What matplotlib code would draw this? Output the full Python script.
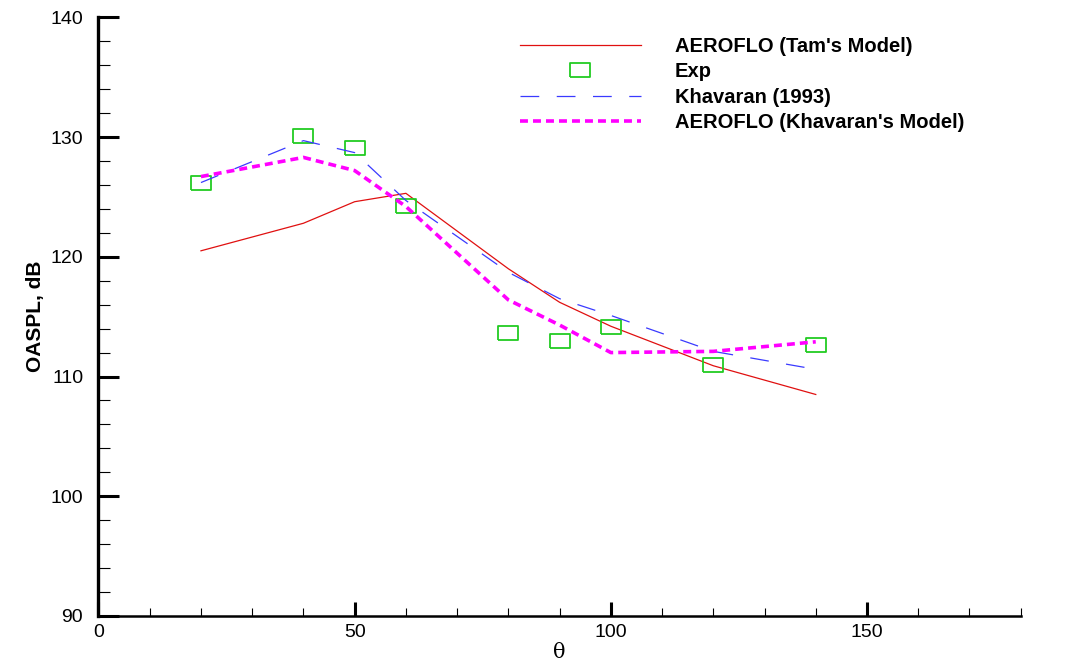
import matplotlib
matplotlib.use("Agg")
import matplotlib.pyplot as plt
from matplotlib.ticker import MultipleLocator

plt.rcParams.update({
    "font.family": "Liberation Sans",
    "font.size": 14,
})

# polar angle, deg
theta = [20, 40, 50, 60, 80, 90, 100, 120, 140]
oaspl_tam = [120.5, 122.8, 124.6, 125.3, 119.0, 116.2, 114.2, 110.9, 108.5]
oaspl_exp = [126.2, 130.1, 129.1, 124.2, 113.6, 113.0, 114.1, 111.0, 112.6]
oaspl_khav1993 = [126.2, 129.7, 128.7, 124.7, 118.7, 116.5, 115.1, 112.1, 110.6]
oaspl_khav_model = [126.7, 128.3, 127.2, 124.2, 116.4, 114.3, 112.0, 112.1, 112.9]

# rectangular (wider than tall) open marker like the original
rect = [(-1, -0.72), (1, -0.72), (1, 0.72), (-1, 0.72), (-1, -0.72)]

fig = plt.figure(figsize=(10.92, 6.66), dpi=100)
ax = fig.add_axes([0.0902, 0.0751, 0.9347 - 0.0902, 0.974 - 0.0751])

ax.plot(theta, oaspl_tam, color="#e01010", lw=0.9, label="AEROFLO (Tam's Model)")
ax.plot(theta, oaspl_exp, ls="none", marker=rect, ms=15, mfc="none",
        mec="#22cc22", mew=1.3, label="Exp")
ax.plot(theta, oaspl_khav1993, color="#3a3aff", lw=0.9, dashes=(15, 14),
        label="Khavaran (1993)")
ax.plot(theta, oaspl_khav_model, color="#ff00ff", lw=2.6, dashes=(2.2, 1.4),
        label="AEROFLO (Khavaran's Model)")

ax.set_xlim(0, 180)
ax.set_ylim(90, 140)
ax.xaxis.set_major_locator(MultipleLocator(50))
ax.xaxis.set_minor_locator(MultipleLocator(10))
ax.yaxis.set_major_locator(MultipleLocator(10))
ax.yaxis.set_minor_locator(MultipleLocator(2))

ax.spines["top"].set_visible(False)
ax.spines["right"].set_visible(False)
ax.spines["left"].set_linewidth(2.4)
ax.spines["bottom"].set_linewidth(1.8)

ax.tick_params(axis="y", which="major", direction="in", length=15, width=2.2, pad=11, labelsize=14)
ax.tick_params(axis="y", which="minor", direction="in", length=8.5, width=0.8)
ax.tick_params(axis="x", which="major", direction="in", length=10, width=2.2, pad=6, labelsize=14)
ax.tick_params(axis="x", which="minor", direction="in", length=5.8, width=0.8)

ax.set_xlabel("θ", family="DejaVu Serif", fontsize=15, labelpad=1)
ax.set_ylabel("OASPL, dB", fontweight="bold", fontsize=15, labelpad=4)

ax.legend(loc="upper left", bbox_to_anchor=(520 / 1092, 1 - 37 / 666),
          bbox_transform=fig.transFigure, frameon=False, borderpad=0,
          borderaxespad=0, handlelength=6.0, handletextpad=1.7,
          labelspacing=0.32, prop={"weight": "bold", "size": 14.5})

fig.savefig("out.png", dpi=100)
